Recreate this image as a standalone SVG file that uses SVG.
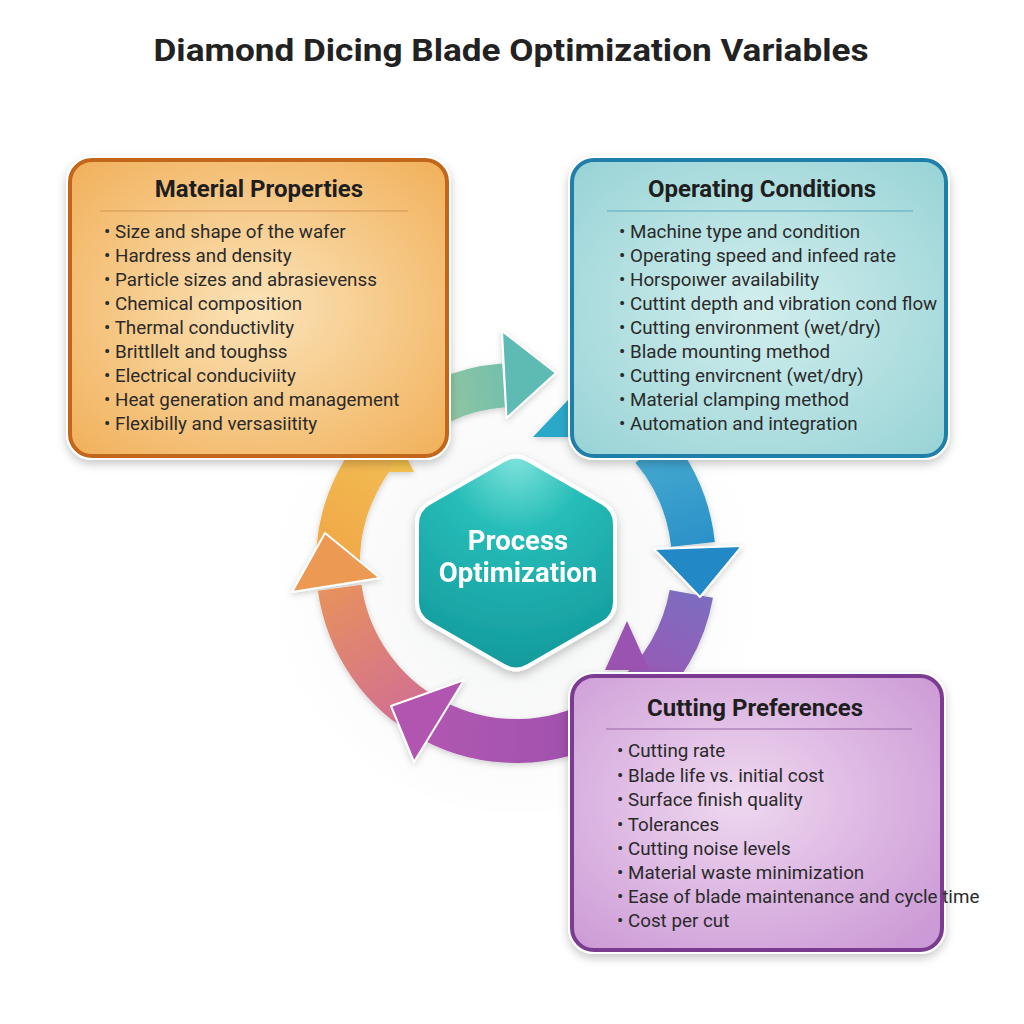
<svg xmlns="http://www.w3.org/2000/svg" width="1024" height="1024" viewBox="0 0 1024 1024">
<defs>
<style>
.title{font-family:Roboto,"Liberation Sans",sans-serif;font-weight:700;font-size:32px;fill:#222;}
.head{font-family:Roboto,"Liberation Sans",sans-serif;font-weight:700;font-size:24px;fill:#1e1e1e;}
.item{font-family:Roboto,"Liberation Sans",sans-serif;font-size:18.8px;fill:#2a2a2a;}
.hex{font-family:Roboto,"Liberation Sans",sans-serif;font-weight:700;font-size:27.5px;fill:#ffffff;}
.band{fill:none;stroke-width:44;}
</style>
<filter id="sh" x="-20%" y="-20%" width="140%" height="140%">
<feDropShadow dx="0" dy="4" stdDeviation="5" flood-color="#000" flood-opacity="0.22"/>
</filter>
<filter id="sh2" x="-20%" y="-20%" width="140%" height="140%">
<feDropShadow dx="0" dy="2" stdDeviation="3" flood-color="#000" flood-opacity="0.18"/>
</filter>
<radialGradient id="g1" cx="50%" cy="50%" r="70%">
<stop offset="0" stop-color="#fbe3b8"/><stop offset="1" stop-color="#f1b05a"/>
</radialGradient>
<radialGradient id="g2" cx="50%" cy="50%" r="70%">
<stop offset="0" stop-color="#d2eeed"/><stop offset="1" stop-color="#98d3d6"/>
</radialGradient>
<radialGradient id="g3" cx="45%" cy="45%" r="70%">
<stop offset="0" stop-color="#efd8f0"/><stop offset="1" stop-color="#cc9ad6"/>
</radialGradient>
<radialGradient id="gh" cx="50%" cy="0%" r="100%">
<stop offset="0" stop-color="#7fe3dc"/><stop offset="0.35" stop-color="#27bdb8"/><stop offset="1" stop-color="#149a9c"/>
</radialGradient>
<radialGradient id="bg" cx="50%" cy="55%" r="50%">
<stop offset="0" stop-color="#f3f4f4"/><stop offset="1" stop-color="#ffffff"/>
</radialGradient>
<linearGradient id="a1" gradientUnits="userSpaceOnUse" x1="440" y1="400" x2="555" y2="380">
<stop offset="0" stop-color="#93c6a0"/><stop offset="1" stop-color="#5cbab6"/>
</linearGradient>
<linearGradient id="a2" gradientUnits="userSpaceOnUse" x1="650" y1="450" x2="700" y2="596">
<stop offset="0" stop-color="#45aad0"/><stop offset="1" stop-color="#1f86c4"/>
</linearGradient>
<linearGradient id="a3" gradientUnits="userSpaceOnUse" x1="690" y1="595" x2="630" y2="700">
<stop offset="0" stop-color="#7e6cc0"/><stop offset="1" stop-color="#a055b2"/>
</linearGradient>
<linearGradient id="a4" gradientUnits="userSpaceOnUse" x1="605" y1="717" x2="390" y2="700">
<stop offset="0" stop-color="#9d4fad"/><stop offset="1" stop-color="#b45ab2"/>
</linearGradient>
<linearGradient id="a5" gradientUnits="userSpaceOnUse" x1="440" y1="725" x2="335" y2="540">
<stop offset="0" stop-color="#cf6a9a"/><stop offset="1" stop-color="#ec9a50"/>
</linearGradient>
<linearGradient id="a6" gradientUnits="userSpaceOnUse" x1="338" y1="560" x2="427" y2="409">
<stop offset="0" stop-color="#f0a848"/><stop offset="1" stop-color="#f4c658"/>
</linearGradient>
</defs>
<rect width="1024" height="1024" fill="#ffffff"/>
<circle cx="516" cy="563" r="250" fill="url(#bg)"/>
<text class="title" x="511" y="61" text-anchor="middle" textLength="715" lengthAdjust="spacingAndGlyphs">Diamond Dicing Blade Optimization Variables</text>

<g id="connectors" filter="url(#sh2)">
<path class="band" stroke="url(#a6)" d="M338.4,575.4 A178,178 0 0 1 427,408.8"/>
<polygon points="388,472 414,472 403,450" fill="#f2c04e"/>
<path class="band" stroke="url(#a5)" d="M432.4,720.2 A178,178 0 0 1 339.7,587.8"/>
<polygon points="292,592 380,578 325,533" fill="#ec9a52" stroke="#fff" stroke-width="2" stroke-linejoin="round"/>
<path class="band" stroke="url(#a1)" d="M440.8,401.7 A178,178 0 0 1 503.6,385.4"/>
<polygon points="502,331 506.5,418 556,373" fill="#5dbbb4" stroke="#fff" stroke-width="2" stroke-linejoin="round"/>
<polygon points="533,437 571,437 568,400" fill="#2aa8c8"/>
<path class="band" stroke="url(#a3)" d="M691.3,593.9 A178,178 0 0 1 630.4,699.4"/>
<polygon points="605,670 649,670 627,621" fill="#9a52b0"/>
<path class="band" stroke="url(#a2)" d="M652.3,448.6 A178,178 0 0 1 693,544.4"/>
<polygon points="742,546 654,549 700,597" fill="#2188c6" stroke="#fff" stroke-width="2" stroke-linejoin="round"/>
<path class="band" stroke="url(#a4)" d="M605,717.2 A178,178 0 0 1 432.4,720.2"/>
<polygon points="414,762 464,680 391,706" fill="#b255b0" stroke="#fff" stroke-width="2" stroke-linejoin="round"/>
</g>

<g id="node-hex" filter="url(#sh)">
<path d="M503.9,460 Q516,453 528.1,460 L602.9,503 Q615,510 615,524 L615,602 Q615,616 602.9,623 L528.1,666 Q516,673 503.9,666 L429.1,623 Q417,616 417,602 L417,524 Q417,510 429.1,503 Z" fill="url(#gh)" stroke="#ffffff" stroke-width="4"/>
<text class="hex" x="518" y="550" text-anchor="middle">Process</text>
<text class="hex" x="518" y="582" text-anchor="middle">Optimization</text>
</g>

<g id="node-material">
<rect x="70" y="160" width="377" height="296" rx="22" fill="#ffffff" stroke="#ffffff" stroke-width="8" filter="url(#sh)"/>
<rect x="70" y="160" width="377" height="296" rx="22" fill="url(#g1)" stroke="#c2661c" stroke-width="4"/>
<text class="head" x="259" y="197" text-anchor="middle">Material Properties</text>
<line x1="100" y1="211" x2="408" y2="211" stroke="#d4955a" stroke-width="1.2"/>
<g class="item">
<text x="104" y="238">• Size and shape of the wafer</text>
<text x="104" y="262">• Hardress and density</text>
<text x="104" y="286">• Particle sizes and abrasievenss</text>
<text x="104" y="310">• Chemical composition</text>
<text x="104" y="334">• Thermal conductivlity</text>
<text x="104" y="358">• Brittllelt and toughss</text>
<text x="104" y="382">• Electrical conduciviity</text>
<text x="104" y="406">• Heat generation and management</text>
<text x="104" y="430">• Flexibilly and versasiitity</text>
</g>
</g>

<g id="node-operating">
<rect x="572" y="160" width="374" height="296" rx="22" fill="#ffffff" stroke="#ffffff" stroke-width="8" filter="url(#sh)"/>
<rect x="572" y="160" width="374" height="296" rx="22" fill="url(#g2)" stroke="#1f7fa8" stroke-width="4"/>
<text class="head" x="762" y="197" text-anchor="middle">Operating Conditions</text>
<line x1="607" y1="211" x2="913" y2="211" stroke="#5aa8b8" stroke-width="1.2"/>
<g class="item">
<text x="619" y="238">• Machine type and condition</text>
<text x="619" y="262">• Operating speed and infeed rate</text>
<text x="619" y="286">• Horspoıwer availability</text>
<text x="619" y="310">• Cuttint depth and vibration cond flow</text>
<text x="619" y="334">• Cutting environment (wet/dry)</text>
<text x="619" y="358">• Blade mounting method</text>
<text x="619" y="382">• Cutting envircnent (wet/dry)</text>
<text x="619" y="406">• Material clamping method</text>
<text x="619" y="430">• Automation and integration</text>
</g>
</g>

<g id="node-cutting">
<rect x="572" y="676" width="370" height="274" rx="22" fill="#ffffff" stroke="#ffffff" stroke-width="8" filter="url(#sh)"/>
<rect x="572" y="676" width="370" height="274" rx="22" fill="url(#g3)" stroke="#7a3b90" stroke-width="4"/>
<text class="head" x="755" y="716" text-anchor="middle">Cutting Preferences</text>
<line x1="606" y1="729" x2="912" y2="729" stroke="#9a6aa8" stroke-width="1.2"/>
<g class="item">
<text x="617" y="757">• Cutting rate</text>
<text x="617" y="782">• Blade life vs. initial cost</text>
<text x="617" y="806">• Surface finish quality</text>
<text x="617" y="831">• Tolerances</text>
<text x="617" y="855">• Cutting noise levels</text>
<text x="617" y="879">• Material waste minimization</text>
<text x="617" y="903">• Ease of blade maintenance and cycle time</text>
<text x="617" y="927">• Cost per cut</text>
</g>
</g>
</svg>
